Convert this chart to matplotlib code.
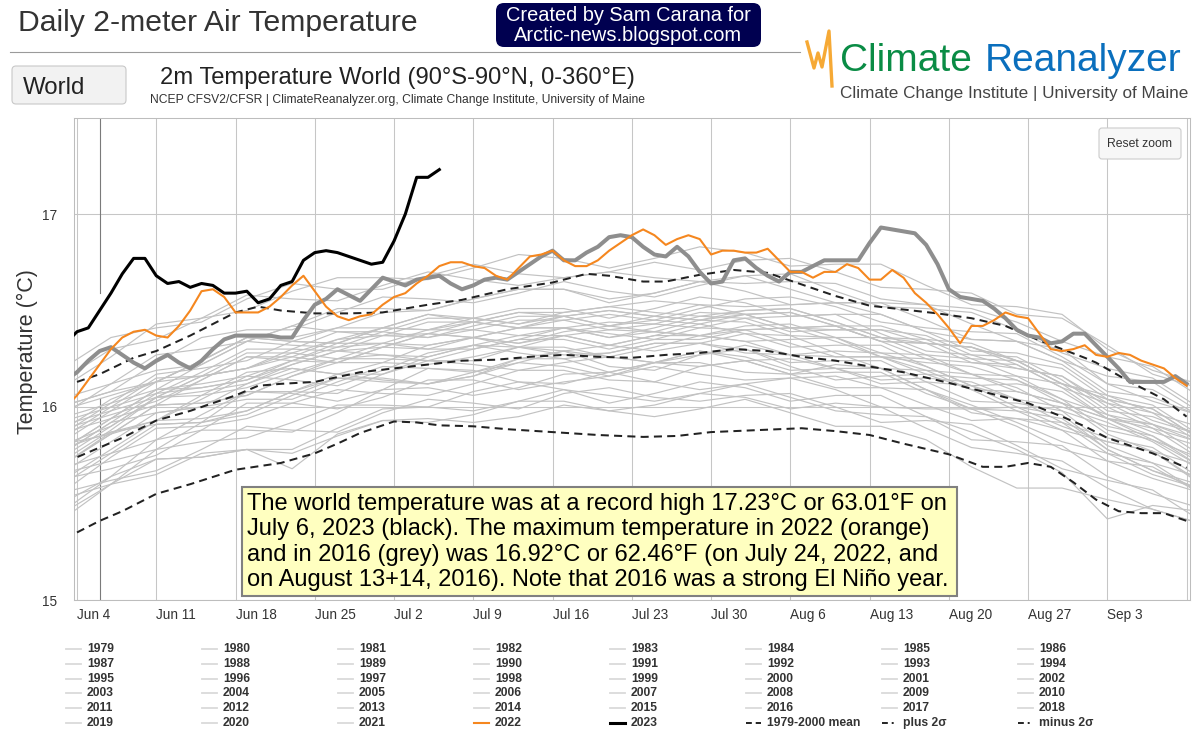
import numpy as np
import pandas as pd
import matplotlib
matplotlib.use("Agg")
import matplotlib.pyplot as plt
import matplotlib.dates as mdates
from matplotlib.patches import FancyBboxPatch, Rectangle

plt.rcParams['font.family'] = ['Liberation Sans', 'DejaVu Sans']

# dates (all years drawn on the 2023 calendar)
daily_dates = pd.date_range('2023-06-03', '2023-09-10', freq='D')   # 2016, 2022
grey_dates = pd.date_range('2023-06-03', periods=26, freq='4D')      # other years, every 4 days
dates_2023 = pd.date_range('2023-06-03', '2023-07-06', freq='D')

tick_dates = pd.date_range('2023-06-04', '2023-09-10', freq='7D')
tick_labels = ['Jun 4', 'Jun 11', 'Jun 18', 'Jun 25', 'Jul 2', 'Jul 9', 'Jul 16',
               'Jul 23', 'Jul 30', 'Aug 6', 'Aug 13', 'Aug 20', 'Aug 27', 'Sep 3', '']

# 2023 (black)
t2023 = [16.33, 16.39, 16.41, 16.50, 16.59, 16.69, 16.77, 16.77, 16.68, 16.64, 16.65, 16.62,
         16.64, 16.63, 16.59, 16.59, 16.60, 16.54, 16.56, 16.63, 16.65, 16.76, 16.80, 16.81,
         16.80, 16.78, 16.76, 16.74, 16.75, 16.86, 17.00, 17.19, 17.19, 17.23]

# 2022 (orange)
t2022 = [16.00, 16.06, 16.14, 16.22, 16.30, 16.36, 16.39, 16.40, 16.37, 16.36, 16.42, 16.50,
         16.60, 16.61, 16.57, 16.49, 16.49, 16.49, 16.52, 16.57, 16.63, 16.68, 16.60, 16.52,
         16.47, 16.45, 16.47, 16.48, 16.53, 16.57, 16.59, 16.64, 16.68, 16.73, 16.75, 16.75,
         16.73, 16.72, 16.68, 16.66, 16.72, 16.78, 16.79, 16.81, 16.76, 16.73, 16.73, 16.76,
         16.81, 16.85, 16.89, 16.92, 16.89, 16.84, 16.87, 16.89, 16.87, 16.79, 16.81, 16.81,
         16.80, 16.80, 16.82, 16.76, 16.70, 16.70, 16.67, 16.70, 16.70, 16.74, 16.72, 16.66,
         16.66, 16.71, 16.67, 16.59, 16.54, 16.48, 16.41, 16.33, 16.42, 16.42, 16.45, 16.49,
         16.47, 16.46, 16.38, 16.30, 16.29, 16.30, 16.32, 16.27, 16.26, 16.28, 16.27, 16.24,
         16.22, 16.20, 16.15, 16.11]

# 2016 (thick grey)
t2016 = [16.14, 16.18, 16.24, 16.29, 16.31, 16.27, 16.23, 16.20, 16.24, 16.27, 16.23, 16.20,
         16.24, 16.30, 16.35, 16.37, 16.37, 16.37, 16.37, 16.36, 16.36, 16.45, 16.53, 16.56,
         16.61, 16.58, 16.55, 16.61, 16.67, 16.65, 16.63, 16.66, 16.67, 16.68, 16.64, 16.61,
         16.63, 16.66, 16.67, 16.66, 16.70, 16.74, 16.78, 16.81, 16.76, 16.76, 16.80, 16.83,
         16.88, 16.89, 16.88, 16.83, 16.79, 16.78, 16.83, 16.78, 16.70, 16.64, 16.65, 16.76,
         16.77, 16.72, 16.68, 16.65, 16.70, 16.70, 16.73, 16.76, 16.76, 16.76, 16.76, 16.85,
         16.93, 16.92, 16.91, 16.90, 16.84, 16.74, 16.61, 16.57, 16.56, 16.55, 16.51, 16.46,
         16.40, 16.37, 16.36, 16.33, 16.34, 16.38, 16.38, 16.32, 16.26, 16.20, 16.13, 16.13,
         16.13, 16.13, 16.16, 16.12]

# 1979-2000 mean and +/- 2 sigma (days after Jun 4)
mean_days = [-1, 0, 2, 4, 7, 10, 14, 16, 18, 21, 25, 28, 31, 34, 37, 40, 43, 46, 49, 52, 55,
             58, 61, 64, 67, 70, 73, 77, 80, 84, 87, 89, 91, 93, 95, 98]
mean_vals = [15.71, 15.74, 15.79, 15.84, 15.93, 15.98, 16.06, 16.11, 16.12, 16.13, 16.18, 16.20,
             16.22, 16.24, 16.245, 16.26, 16.27, 16.26, 16.255, 16.27, 16.28, 16.30, 16.29,
             16.26, 16.24, 16.21, 16.18, 16.125, 16.08, 16.02, 15.95, 15.90, 15.84, 15.80,
             15.76, 15.685]
plus_days = [0, 2, 5, 7, 10, 14, 16, 18, 21, 24, 27, 31, 34, 38, 42, 45, 47, 50, 52, 55, 58,
             61, 64, 67, 70, 73, 76, 79, 82, 85, 87, 89, 90, 93, 96, 98]
plus_vals = [16.13, 16.17, 16.255, 16.29, 16.37, 16.49, 16.52, 16.50, 16.485, 16.485, 16.49,
             16.53, 16.555, 16.61, 16.645, 16.69, 16.68, 16.65, 16.65, 16.685, 16.71, 16.695,
             16.635, 16.575, 16.525, 16.505, 16.485, 16.46, 16.42, 16.345, 16.30, 16.255,
             16.23, 16.13, 16.04, 15.95]
minus_days = [0, 2, 4, 7, 10, 14, 18, 21, 23, 25, 28, 30, 32, 35, 38, 42, 46, 50, 53, 56, 60,
              64, 67, 70, 73, 77, 80, 82, 84, 86, 88, 90, 92, 94, 96, 98]
minus_vals = [15.35, 15.41, 15.46, 15.55, 15.60, 15.675, 15.71, 15.76, 15.81, 15.865, 15.925,
              15.92, 15.905, 15.90, 15.885, 15.87, 15.855, 15.845, 15.85, 15.87, 15.88, 15.89,
              15.875, 15.855, 15.81, 15.755, 15.69, 15.69, 15.71, 15.69, 15.61, 15.52, 15.46,
              15.45, 15.45, 15.41]

# other years, read every 4 days from Jun 3
y1979 = [15.51, 15.64, 15.83, 15.88, 15.88, 15.87, 15.97, 16.09, 16.10, 16.06, 16.10, 16.17, 16.18, 16.13, 16.09, 16.12, 16.15, 16.09, 16.00, 15.99, 15.99, 15.90, 15.78, 15.72, 15.69, 15.56]
y1980 = [15.66, 15.72, 15.78, 15.92, 16.08, 16.07, 16.03, 16.09, 16.20, 16.19, 16.13, 16.12, 16.18, 16.23, 16.23, 16.18, 16.17, 16.22, 16.20, 16.09, 15.97, 15.94, 15.92, 15.76, 15.65, 15.58]
y1981 = [15.71, 15.87, 15.91, 15.92, 15.98, 16.08, 16.17, 16.14, 16.12, 16.16, 16.25, 16.29, 16.21, 16.19, 16.27, 16.30, 16.21, 16.14, 16.16, 16.17, 16.09, 15.98, 15.88, 15.82, 15.77, 15.61]
y1982 = [15.46, 15.60, 15.78, 15.82, 15.84, 15.92, 16.01, 16.01, 16.00, 16.08, 16.13, 16.09, 16.02, 16.07, 16.13, 16.10, 16.03, 16.06, 16.06, 15.95, 15.83, 15.82, 15.80, 15.64, 15.55, 15.48]
y1983 = [15.79, 15.87, 15.93, 16.04, 16.16, 16.14, 16.11, 16.19, 16.28, 16.32, 16.28, 16.25, 16.28, 16.33, 16.33, 16.28, 16.27, 16.29, 16.28, 16.21, 16.11, 16.04, 16.00, 15.92, 15.82, 15.68]
y1984 = [15.56, 15.62, 15.67, 15.78, 15.90, 15.88, 15.87, 15.97, 16.04, 16.02, 15.99, 16.07, 16.10, 16.05, 16.03, 16.06, 16.07, 16.00, 15.92, 15.93, 15.91, 15.80, 15.68, 15.62, 15.57, 15.42]
y1985 = [15.43, 15.60, 15.73, 15.74, 15.78, 15.68, 15.86, 15.93, 15.92, 15.96, 16.03, 16.03, 15.98, 16.01, 16.07, 16.05, 15.99, 16.02, 16.00, 15.89, 15.79, 15.76, 15.72, 15.58, 15.47, 15.40]
y1986 = [15.63, 15.68, 15.75, 15.88, 16.02, 16.02, 15.99, 16.05, 16.14, 16.14, 16.09, 16.13, 16.16, 16.21, 16.17, 16.14, 16.15, 16.16, 16.10, 16.01, 15.93, 15.94, 15.88, 15.72, 15.63, 15.56]
y1987 = [15.73, 15.88, 16.05, 16.08, 16.12, 16.22, 16.29, 16.27, 16.26, 16.32, 16.37, 16.37, 16.32, 16.37, 16.43, 16.38, 16.31, 16.32, 16.32, 16.21, 16.11, 16.12, 16.08, 15.94, 15.83, 15.70]
y1988 = [15.81, 15.86, 15.93, 16.06, 16.18, 16.20, 16.17, 16.23, 16.32, 16.36, 16.31, 16.29, 16.32, 16.37, 16.37, 16.34, 16.35, 16.36, 16.26, 16.17, 16.15, 16.14, 16.04, 15.88, 15.83, 15.74]
y1989 = [15.57, 15.74, 15.89, 15.90, 15.94, 16.02, 16.09, 16.07, 16.06, 16.12, 16.19, 16.19, 16.14, 16.13, 16.21, 16.24, 16.17, 16.10, 16.10, 16.09, 16.01, 15.92, 15.82, 15.76, 15.71, 15.56]
y1990 = [15.71, 15.86, 16.01, 16.02, 16.06, 16.16, 16.25, 16.27, 16.24, 16.24, 16.31, 16.37, 16.32, 16.29, 16.33, 16.38, 16.37, 16.28, 16.20, 16.19, 16.17, 16.10, 15.98, 15.90, 15.85, 15.70]
y1991 = [15.77, 15.92, 15.97, 16.00, 16.12, 16.20, 16.17, 16.17, 16.26, 16.32, 16.31, 16.27, 16.28, 16.33, 16.33, 16.30, 16.23, 16.24, 16.24, 16.13, 16.03, 16.02, 15.98, 15.80, 15.71, 15.64]
y1992 = [15.53, 15.60, 15.65, 15.76, 15.78, 15.76, 15.85, 15.93, 15.94, 15.92, 15.95, 16.01, 15.98, 15.95, 15.99, 16.04, 15.97, 15.90, 15.90, 15.83, 15.69, 15.58, 15.58, 15.52, 15.47, 15.40]
y1993 = [15.47, 15.64, 15.73, 15.74, 15.78, 15.78, 15.89, 15.99, 16.00, 15.98, 16.03, 16.09, 16.06, 16.03, 16.07, 16.12, 16.05, 15.98, 15.96, 15.95, 15.87, 15.78, 15.66, 15.42, 15.49, 15.46]
y1994 = [15.61, 15.76, 15.91, 15.92, 15.96, 16.06, 16.15, 16.15, 16.12, 16.16, 16.23, 16.21, 16.16, 16.23, 16.29, 16.24, 16.17, 16.18, 16.18, 16.07, 15.99, 16.00, 15.96, 15.78, 15.67, 15.58]
y1995 = [15.75, 15.90, 16.05, 16.06, 16.10, 16.18, 16.25, 16.25, 16.24, 16.30, 16.35, 16.35, 16.30, 16.35, 16.41, 16.40, 16.33, 16.26, 16.26, 16.25, 16.17, 16.08, 16.02, 15.94, 15.85, 15.72]
y1996 = [15.69, 15.76, 15.83, 15.96, 16.08, 16.08, 16.07, 16.17, 16.24, 16.22, 16.19, 16.23, 16.26, 16.23, 16.21, 16.24, 16.25, 16.20, 16.12, 16.13, 16.11, 16.00, 15.90, 15.82, 15.77, 15.62]
y1997 = [15.79, 15.94, 16.09, 16.10, 16.14, 16.24, 16.33, 16.33, 16.30, 16.36, 16.41, 16.41, 16.36, 16.41, 16.47, 16.46, 16.39, 16.40, 16.40, 16.37, 16.27, 16.20, 16.16, 16.02, 15.91, 15.84]
y1998 = [16.01, 16.08, 16.13, 16.24, 16.36, 16.34, 16.33, 16.41, 16.48, 16.44, 16.41, 16.47, 16.50, 16.47, 16.45, 16.48, 16.49, 16.42, 16.34, 16.33, 16.31, 16.22, 16.10, 16.02, 15.97, 15.82]
y1999 = [15.67, 15.82, 15.97, 16.00, 16.04, 16.04, 16.13, 16.21, 16.20, 16.18, 16.23, 16.29, 16.26, 16.23, 16.27, 16.32, 16.27, 16.20, 16.14, 16.15, 16.13, 16.04, 15.92, 15.84, 15.79, 15.64]
y2000 = [15.63, 15.78, 15.93, 15.94, 15.98, 16.08, 16.15, 16.13, 16.12, 16.18, 16.25, 16.25, 16.18, 16.23, 16.29, 16.26, 16.19, 16.20, 16.20, 16.09, 15.99, 15.98, 15.94, 15.78, 15.67, 15.60]
y2001 = [15.87, 15.94, 16.01, 16.14, 16.26, 16.26, 16.23, 16.31, 16.38, 16.36, 16.33, 16.39, 16.42, 16.39, 16.37, 16.40, 16.41, 16.42, 16.34, 16.25, 16.23, 16.22, 16.10, 15.94, 15.91, 15.82]
y2002 = [15.85, 16.00, 16.15, 16.16, 16.20, 16.30, 16.39, 16.39, 16.36, 16.42, 16.47, 16.47, 16.42, 16.47, 16.53, 16.48, 16.41, 16.42, 16.42, 16.35, 16.25, 16.24, 16.20, 16.04, 15.93, 15.86]
y2003 = [15.91, 15.98, 16.05, 16.16, 16.28, 16.28, 16.25, 16.33, 16.40, 16.40, 16.37, 16.41, 16.44, 16.43, 16.41, 16.46, 16.47, 16.48, 16.38, 16.29, 16.27, 16.26, 16.14, 15.98, 15.95, 15.86]
y2004 = [15.77, 15.92, 16.07, 16.10, 16.14, 16.22, 16.29, 16.31, 16.30, 16.30, 16.35, 16.41, 16.38, 16.35, 16.35, 16.40, 16.41, 16.34, 16.26, 16.23, 16.21, 16.14, 16.02, 15.94, 15.89, 15.74]
y2005 = [15.95, 16.02, 16.09, 16.22, 16.34, 16.32, 16.31, 16.39, 16.46, 16.46, 16.43, 16.49, 16.52, 16.49, 16.47, 16.50, 16.51, 16.44, 16.36, 16.35, 16.33, 16.24, 16.12, 16.06, 16.01, 15.86]
y2006 = [15.83, 15.98, 16.13, 16.16, 16.20, 16.28, 16.35, 16.37, 16.36, 16.40, 16.45, 16.45, 16.40, 16.43, 16.49, 16.48, 16.41, 16.40, 16.40, 16.33, 16.23, 16.20, 16.16, 16.00, 15.89, 15.82]
y2007 = [15.89, 15.96, 16.03, 16.14, 16.26, 16.24, 16.23, 16.31, 16.38, 16.36, 16.33, 16.37, 16.40, 16.39, 16.37, 16.42, 16.43, 16.36, 16.28, 16.27, 16.25, 16.16, 16.04, 15.96, 15.91, 15.76]
y2008 = [15.71, 15.86, 16.01, 16.02, 16.06, 16.16, 16.23, 16.23, 16.22, 16.26, 16.31, 16.31, 16.26, 16.31, 16.37, 16.34, 16.27, 16.26, 16.26, 16.19, 16.09, 16.08, 16.02, 15.86, 15.77, 15.70]
y2009 = [15.87, 16.02, 16.17, 16.20, 16.24, 16.34, 16.41, 16.41, 16.40, 16.46, 16.51, 16.51, 16.46, 16.51, 16.57, 16.54, 16.47, 16.48, 16.48, 16.39, 16.29, 16.28, 16.22, 16.06, 15.97, 15.90]
y2010 = [15.99, 16.06, 16.13, 16.24, 16.36, 16.34, 16.33, 16.41, 16.48, 16.46, 16.43, 16.47, 16.50, 16.47, 16.45, 16.50, 16.51, 16.44, 16.36, 16.33, 16.31, 16.24, 16.12, 16.04, 15.99, 15.84]
y2011 = [15.79, 15.94, 16.09, 16.12, 16.16, 16.24, 16.31, 16.33, 16.32, 16.36, 16.41, 16.41, 16.36, 16.39, 16.45, 16.44, 16.37, 16.36, 16.36, 16.27, 16.17, 16.16, 16.12, 15.96, 15.87, 15.80]
y2012 = [15.93, 16.00, 16.07, 16.18, 16.30, 16.30, 16.29, 16.37, 16.44, 16.44, 16.41, 16.45, 16.48, 16.45, 16.43, 16.48, 16.49, 16.42, 16.34, 16.33, 16.31, 16.24, 16.12, 16.04, 15.99, 15.84]
y2013 = [15.81, 15.90, 16.05, 16.16, 16.20, 16.26, 16.35, 16.41, 16.40, 16.44, 16.49, 16.49, 16.52, 16.55, 16.53, 16.52, 16.53, 16.54, 16.48, 16.39, 16.35, 16.34, 16.24, 16.08, 16.05, 15.96]
y2014 = [16.05, 16.12, 16.19, 16.22, 16.34, 16.42, 16.39, 16.37, 16.38, 16.44, 16.49, 16.47, 16.42, 16.45, 16.51, 16.56, 16.57, 16.52, 16.44, 16.41, 16.39, 16.38, 16.26, 16.12, 16.09, 15.96]
y2015 = [15.89, 16.04, 16.13, 16.24, 16.36, 16.36, 16.41, 16.49, 16.50, 16.56, 16.61, 16.61, 16.56, 16.59, 16.65, 16.64, 16.65, 16.64, 16.56, 16.53, 16.51, 16.44, 16.34, 16.26, 16.21, 16.06]
y2017 = [16.15, 16.30, 16.35, 16.46, 16.58, 16.56, 16.55, 16.63, 16.70, 16.66, 16.63, 16.67, 16.70, 16.67, 16.65, 16.68, 16.69, 16.60, 16.52, 16.51, 16.49, 16.40, 16.28, 16.20, 16.15, 16.00]
y2018 = [15.97, 16.12, 16.27, 16.30, 16.34, 16.42, 16.51, 16.51, 16.50, 16.56, 16.61, 16.61, 16.54, 16.59, 16.65, 16.60, 16.53, 16.54, 16.54, 16.45, 16.35, 16.34, 16.30, 16.12, 16.03, 15.96]
y2019 = [16.11, 16.26, 16.43, 16.46, 16.50, 16.60, 16.67, 16.67, 16.66, 16.72, 16.79, 16.77, 16.72, 16.77, 16.83, 16.80, 16.73, 16.74, 16.74, 16.63, 16.53, 16.52, 16.48, 16.30, 16.19, 16.12]
y2020 = [16.21, 16.36, 16.41, 16.44, 16.56, 16.64, 16.61, 16.61, 16.68, 16.74, 16.69, 16.67, 16.70, 16.75, 16.71, 16.76, 16.77, 16.70, 16.62, 16.61, 16.59, 16.48, 16.46, 16.32, 16.17, 16.10]
y2021 = [16.01, 16.08, 16.23, 16.36, 16.40, 16.40, 16.49, 16.57, 16.56, 16.54, 16.59, 16.65, 16.60, 16.57, 16.63, 16.68, 16.61, 16.54, 16.54, 16.53, 16.43, 16.34, 16.24, 16.16, 16.13, 15.98]

grey_years = [y1979, y1980, y1981, y1982, y1983, y1984, y1985, y1986, y1987, y1988, y1989,
              y1990, y1991, y1992, y1993, y1994, y1995, y1996, y1997, y1998, y1999, y2000,
              y2001, y2002, y2003, y2004, y2005, y2006, y2007, y2008, y2009, y2010, y2011,
              y2012, y2013, y2014, y2015, y2017, y2018, y2019, y2020, y2021]

legend_labels = [str(y) for y in range(1979, 2024)] + ['1979-2000 mean', 'plus 2σ', 'minus 2σ']

box_lines = ['The world temperature was at a record high 17.23°C or 63.01°F on',
             'July 6, 2023 (black). The maximum temperature in 2022 (orange)',
             'and in 2016 (grey) was 16.92°C or 62.46°F (on July 24, 2022, and',
             'on August 13+14, 2016). Note that 2016 was a strong El Niño year.']

W, H = 1200, 735
GREY = '#c2c2c2'
DASH = (0, (4, 2.6))


def dnum(idx):
    return mdates.date2num(pd.DatetimeIndex(idx).to_numpy())


jun4 = pd.Timestamp('2023-06-04')
fig = plt.figure(figsize=(12, 7.35), dpi=100)
ax = fig.add_axes([73.6 / W, 1 - 600 / H, 1116.4 / W, 482.5 / H])

for vals in grey_years:
    ax.plot(dnum(grey_dates), vals, color=GREY, lw=0.85, zorder=2)

for days, vals in [(mean_days, mean_vals), (plus_days, plus_vals), (minus_days, minus_vals)]:
    ax.plot(dnum(jun4 + pd.to_timedelta(days, unit='D')), vals, color='#222222', lw=1.45,
            ls=DASH, zorder=3)

ax.plot(dnum(daily_dates), t2016, color='#8e8e8e', lw=2.9, zorder=4)
ax.plot(dnum(daily_dates), t2022, color='#f5871f', lw=1.5, zorder=5)
ax.plot(dnum(dates_2023), t2023, color='black', lw=2.2, zorder=6)

x0 = mdates.date2num(jun4)
ax.set_xlim(x0 - 0.3, x0 + 98.3)
ax.set_ylim(15, 17.5)
ax.set_xticks(dnum(tick_dates))
ax.set_xticklabels(tick_labels, ha='left')
ax.set_yticks([15, 16, 17])
ax.set_yticklabels(['15', '16', '17'])
ax.grid(True, color='#c6c6c6', lw=0.75)
ax.set_axisbelow(True)
ax.tick_params(length=0, labelsize=9.8, labelcolor='#333333')
ax.tick_params(axis='x', pad=6)
ax.tick_params(axis='y', pad=12)
for s in ax.spines.values():
    s.set_color('#bdbdbd')
    s.set_linewidth(0.75)

marker = mdates.date2num(pd.Timestamp('2023-06-06'))
ax.axvline(marker, ymin=0.636, ymax=1, color='#7a7a7a', lw=0.8, zorder=1.5)
ax.axvline(marker, ymin=0, ymax=0.419, color='#7a7a7a', lw=0.8, zorder=1.5)

# overlay in pixel coordinates for the page furniture
ov = fig.add_axes([0, 0, 1, 1], zorder=5)
ov.set_xlim(0, W)
ov.set_ylim(H, 0)
ov.axis('off')
ov.patch.set_visible(False)

ov.text(18, 31, 'Daily 2-meter Air Temperature', fontsize=21.7, color='#333333', va='baseline')
ov.plot([10, 800], [52, 52], color='#9a9a9a', lw=0.8)

ov.add_patch(FancyBboxPatch((496, 3), 265, 44, boxstyle='round,pad=0,rounding_size=8',
                            fc='#000050', ec='none'))
ov.text(628, 21, 'Created by Sam Carana for', fontsize=14.4, color='white', ha='center', va='baseline')
ov.text(628, 41, 'Arctic-news.blogspot.com', fontsize=14.4, color='white', ha='center', va='baseline')

ov.add_patch(FancyBboxPatch((12, 66), 114, 38, boxstyle='round,pad=0,rounding_size=4',
                            fc='#f2f2f2', ec='#c8c8c8', lw=0.8))
ov.text(23, 94, 'World', fontsize=17.3, color='#222222', va='baseline')
ov.text(160, 84, '2m Temperature World (90°S-90°N, 0-360°E)', fontsize=17.1, color='#222222',
        va='baseline')
ov.text(150, 103, 'NCEP CFSV2/CFSR | ClimateReanalyzer.org, Climate Change Institute, University of Maine',
        fontsize=8.75, color='#333333', va='baseline')

# logo
ov.plot([807, 814, 818, 822, 829, 832], [42, 68, 53, 67, 31, 86], color='#f6a935', lw=2.4)
ov.text(840, 71, 'Climate', fontsize=28, color='#0a8c45', va='baseline')
ov.text(985, 71, 'Reanalyzer', fontsize=28, color='#0a6fbd', va='baseline')
ov.text(840, 98, 'Climate Change Institute | University of Maine', fontsize=12.3, color='#444444',
        va='baseline')

ov.add_patch(FancyBboxPatch((1099, 128), 82, 31, boxstyle='round,pad=0,rounding_size=3',
                            fc='#f7f7f7', ec='#cccccc', lw=0.8))
ov.text(1140, 144, 'Reset zoom', fontsize=8.8, color='#333333', ha='center', va='center')

ov.text(27, 352, 'Temperature (°C)', fontsize=15.5, color='#333333', rotation=90,
        ha='center', va='center')

ov.add_patch(Rectangle((241.5, 486.5), 715, 109, fc='#ffffc0', ec='#808080', lw=1.5))
for i, line in enumerate(box_lines):
    ov.text(247, 510 + 25.4 * i, line, fontsize=17, color='black', va='baseline')

# legend, 8 columns, row-major
for i, label in enumerate(legend_labels):
    r, c = divmod(i, 8)
    x = 66 + 136 * c
    y = 649 + 14.8 * r
    if label == '2022':
        st = dict(color='#f5871f', lw=1.5)
    elif label == '2023':
        st = dict(color='black', lw=2.2)
    elif label == '1979-2000 mean':
        st = dict(color='#222222', lw=1.4, ls=(0, (3, 2)))
    elif label in ('plus 2σ', 'minus 2σ'):
        st = dict(color='#222222', lw=1.4, ls=(0, (3, 2, 1, 2)))
    else:
        st = dict(color='#dadada', lw=1.3)
    ov.plot([x, x + 15], [y, y], **st)
    ov.text(x + 21, y, label, fontsize=8.7, fontweight='bold', color='#333333', va='center')

fig.savefig('out.png', dpi=100)
